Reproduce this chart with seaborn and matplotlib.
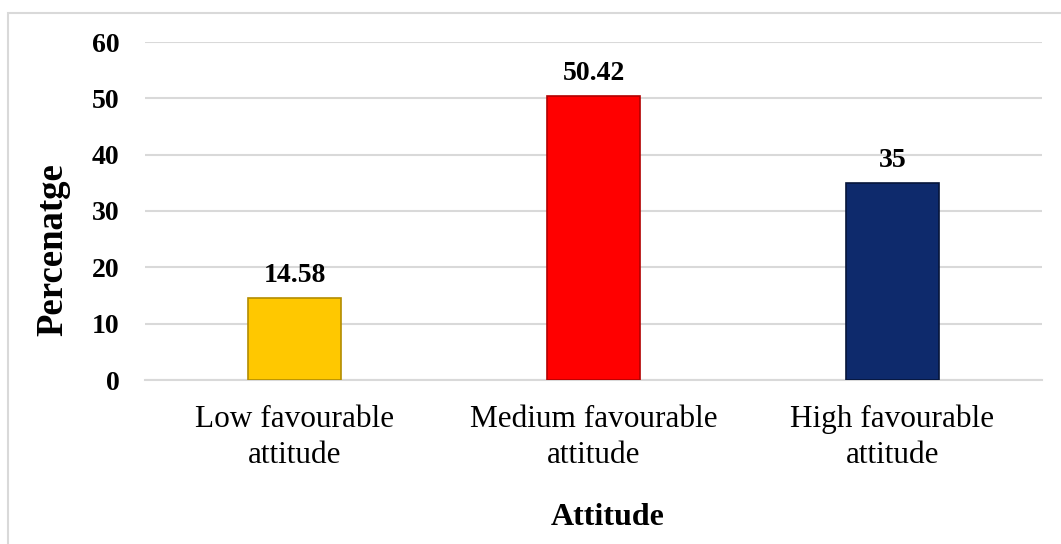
import matplotlib
matplotlib.use("Agg")
import matplotlib.pyplot as plt
import seaborn as sns
from matplotlib.patches import Rectangle

categories = ["Low favourable\nattitude", "Medium favourable\nattitude", "High favourable\nattitude"]
values = [14.58, 50.42, 35]
value_labels = ["14.58", "50.42", "35"]
colors = ["#FFC800", "#FF0000", "#0E2A6C"]
edge_colors = ["#B38C00", "#B30000", "#06153A"]
yticks = [0, 10, 20, 30, 40, 50, 60]

sns.set_theme(style="white")
plt.rcParams["font.family"] = ["Liberation Serif", "DejaVu Serif"]
plt.rcParams["text.color"] = "black"
plt.rcParams["xtick.color"] = "black"
plt.rcParams["ytick.color"] = "black"
plt.rcParams["axes.labelcolor"] = "black"

W, H = 1061, 544
fig = plt.figure(figsize=(W / 100, H / 100), dpi=100)
fig.patch.set_facecolor("white")

# outer border
fig.add_artist(Rectangle((8 / W, -0.1), 1.2, 1 - 13 / H + 0.1, transform=fig.transFigure,
                         fill=False, edgecolor="#D9D9D9", linewidth=1.5))

ax = fig.add_axes([145 / W, 1 - 380 / H, (1042 - 145) / W, (380 - 42) / H])
sns.barplot(x=categories, y=values, hue=categories, palette=colors, saturation=1,
            width=0.314, legend=False, ax=ax, zorder=3)
for p, ec in zip(ax.patches, edge_colors):
    p.set_edgecolor(ec)
    p.set_linewidth(1.2)

ax.set_ylim(0, 60)
ax.set_xlim(-0.5, 2.5)
ax.set_yticks(yticks)
ax.set_yticklabels([str(t) for t in yticks], fontsize=20, fontweight="bold", color="black")
ax.grid(axis="y", color="#D9D9D9", linewidth=1.5, zorder=0)
ax.grid(axis="x", visible=False)
ax.set_axisbelow(True)
for s in ["top", "right", "left"]:
    ax.spines[s].set_visible(False)
ax.spines["bottom"].set_color("#D9D9D9")
ax.spines["bottom"].set_linewidth(1.5)
ax.tick_params(axis="y", length=0, pad=18.5, labelcolor="black")
ax.tick_params(axis="x", length=0, pad=18, labelcolor="black")
for lbl in ax.get_xticklabels():
    lbl.set_fontsize(22.5)
    lbl.set_linespacing(1.3)
    lbl.set_color("black")
ax.set_xlabel("")
ax.set_ylabel("")

for i, (v, t) in enumerate(zip(values, value_labels)):
    ax.annotate(t, (i, v), xytext=(0, 11.5), textcoords="offset points",
                ha="center", va="baseline", fontsize=20, fontweight="bold", color="black")

fig.text(608 / W, 1 - 525 / H, "Attitude", ha="center", va="baseline",
         fontsize=23, fontweight="bold", color="black")
fig.text(53 / W, 1 - 250 / H, "Percenatge", ha="center", va="center", rotation=90,
         fontsize=26.5, fontweight="bold", color="black")

fig.savefig("out.png", dpi=100, facecolor="white")
